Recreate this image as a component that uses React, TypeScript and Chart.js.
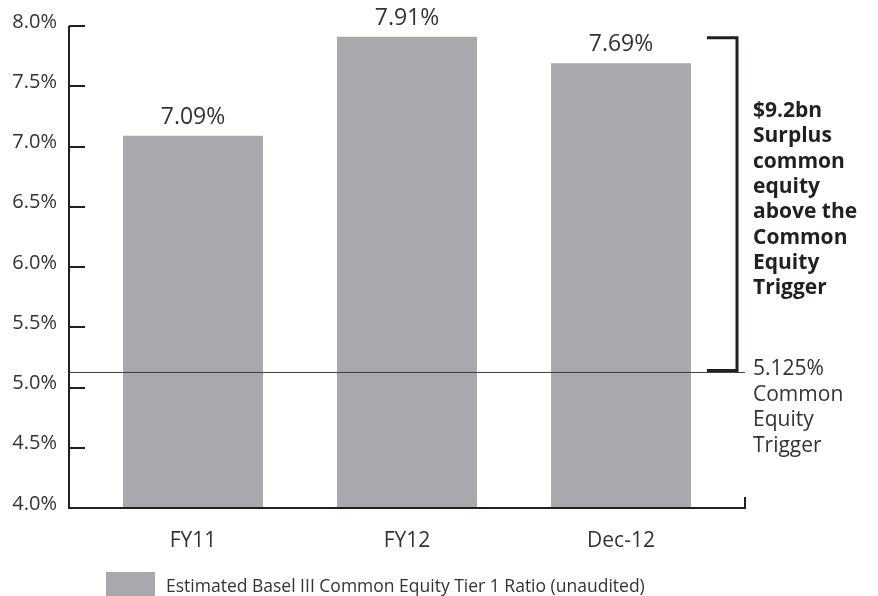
import React, { useEffect, useRef } from "react";
import { Chart, registerables } from "chart.js";

Chart.register(...registerables);

const categories = ["FY11", "FY12", "Dec-12"];
const ratioValues = [7.09, 7.91, 7.69];
const seriesLabel = "Estimated Basel III Common Equity Tier 1 Ratio (unaudited)";
const triggerValue = 5.125;
const triggerLabel = ["5.125%", "Common", "Equity", "Trigger"];
const surplusLabel = ["$9.2bn", "Surplus", "common", "equity", "above the", "Common", "Equity", "Trigger"];
const yMin = 4;
const yMax = 8;
const yStep = 0.5;

const FONT = "'Open Sans', 'Noto Sans', sans-serif";
const TEXT = "#333333";
const AXIS = "#231f20";
const BAR = "#a7a9ac";

const overlay = {
  id: "overlay",
  afterDatasetsDraw(chart: any) {
    const { ctx, chartArea } = chart;
    const y = chart.scales.y;
    const meta = chart.getDatasetMeta(0);
    const axL = chartArea.left - 17;
    const axR = chartArea.right + 17;
    const bottom = y.getPixelForValue(yMin);
    const top = y.getPixelForValue(yMax);
    ctx.save();
    // axis lines
    ctx.strokeStyle = AXIS;
    ctx.lineWidth = 2;
    ctx.beginPath();
    ctx.moveTo(axL, top);
    ctx.lineTo(axL, bottom);
    ctx.lineTo(axR, bottom);
    ctx.lineTo(axR, bottom - 11);
    ctx.stroke();
    // inside ticks
    for (let v = yMin + yStep; v <= yMax + 1e-9; v += yStep) {
      const py = Math.round(y.getPixelForValue(v));
      ctx.beginPath();
      ctx.moveTo(axL, py);
      ctx.lineTo(axL + 16, py);
      ctx.stroke();
    }
    // value labels
    ctx.fillStyle = TEXT;
    ctx.font = `23px ${FONT}`;
    ctx.textAlign = "center";
    ctx.textBaseline = "alphabetic";
    meta.data.forEach((bar: any, i: number) => {
      ctx.fillText(ratioValues[i].toFixed(2) + "%", bar.x, bar.y - 12);
    });
    // trigger line
    const ty = y.getPixelForValue(triggerValue);
    ctx.strokeStyle = "#3a3a3a";
    ctx.lineWidth = 1;
    ctx.beginPath();
    ctx.moveTo(axL, ty);
    ctx.lineTo(axR, ty);
    ctx.stroke();
    // bracket
    const bx = chartArea.right + 9;
    const bTop = y.getPixelForValue(Math.max(...ratioValues)) + 1;
    const bBot = ty - 2;
    ctx.strokeStyle = AXIS;
    ctx.lineWidth = 3;
    ctx.beginPath();
    ctx.moveTo(chartArea.right - 21, bTop);
    ctx.lineTo(bx, bTop);
    ctx.lineTo(bx, bBot);
    ctx.lineTo(chartArea.right - 21, bBot);
    ctx.stroke();
    // surplus text
    const tx = chartArea.right + 25;
    ctx.textAlign = "left";
    ctx.fillStyle = "#231f20";
    ctx.font = `bold 21px ${FONT}`;
    surplusLabel.forEach((s, i) => {
      ctx.fillText(s, tx, 117 + i * 25.3);
    });
    // trigger text
    ctx.fillStyle = TEXT;
    ctx.font = `21px ${FONT}`;
    triggerLabel.forEach((s, i) => {
      ctx.fillText(s, tx, ty + 3 + i * 25.5);
    });
    // legend
    ctx.fillStyle = BAR;
    ctx.fillRect(106, 572, 49, 24);
    ctx.fillStyle = TEXT;
    ctx.font = `17.5px ${FONT}`;
    ctx.textBaseline = "alphabetic";
    ctx.fillText(seriesLabel, 166, 592);
    ctx.restore();
  },
};

export default function App() {
  const ref = useRef<HTMLCanvasElement | null>(null);
  useEffect(() => {
    if (!ref.current) return;
    const chart = new Chart(ref.current, {
      type: "bar",
      data: {
        labels: categories,
        datasets: [
          {
            label: seriesLabel,
            data: ratioValues,
            backgroundColor: BAR,
            borderWidth: 0,
            categoryPercentage: 1,
            barPercentage: 0.654,
          },
        ],
      },
      options: {
        animation: false,
        responsive: false,
        maintainAspectRatio: false,
        layout: { padding: { top: 26, right: 150, left: 0, bottom: 0 } },
        plugins: { legend: { display: false }, tooltip: { enabled: false } },
        scales: {
          x: {
            grid: { display: false, drawTicks: false },
            border: { display: false },
            ticks: { color: TEXT, font: { family: FONT, size: 21 }, padding: 20 },
            afterFit: (s: any) => {
              s.height = 88;
              s.paddingLeft = 0;
              s.paddingRight = 0;
            },
          },
          y: {
            min: yMin,
            max: yMax,
            grid: { display: false, drawTicks: false },
            border: { display: false },
            ticks: {
              stepSize: yStep,
              color: TEXT,
              font: { family: FONT, size: 20 },
              padding: 29,
              labelOffset: -4,
              callback: (v: any) => Number(v).toFixed(1) + "%",
            },
            afterFit: (s: any) => {
              s.width = 86;
              s.paddingTop = 0;
              s.paddingBottom = 0;
            },
          },
        },
      },
      plugins: [overlay],
    });
    return () => chart.destroy();
  }, []);
  return (
    <div style={{ position: "fixed", left: 0, top: 0, width: 878, height: 596, background: "#fff" }}>
      <canvas ref={ref} width={878} height={596} style={{ width: 878, height: 596 }} />
    </div>
  );
}
